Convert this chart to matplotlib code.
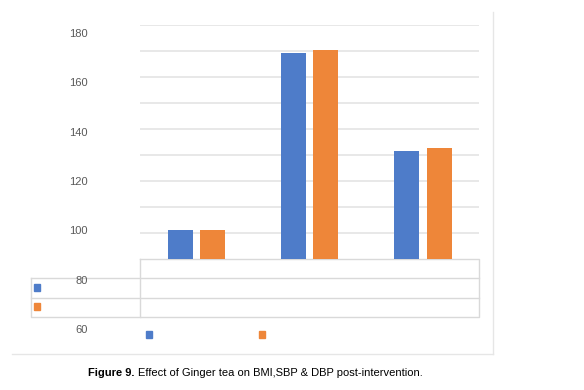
import numpy as np
import matplotlib
matplotlib.use("Agg")
import matplotlib.pyplot as plt
from matplotlib.patches import Rectangle
import matplotlib.transforms as mtransforms

# values (scale of the printed axis labels)
categories = ["BMI", "SBP", "DBP"]
series_a = [100.4, 172.3, 132.6]
series_b = [100.4, 173.5, 133.8]
tick_values = [60, 80, 100, 120, 140, 160, 180]

blue = "#4E7CC9"
orange = "#EE8639"
grid_c = "#E2E2E2"
label_c = "#595959"

plt.rcParams["font.family"] = ["Liberation Sans", "DejaVu Sans"]

fig = plt.figure(figsize=(5.84, 3.9), dpi=100)

# overlay in pixel coordinates for frame, table box and legend keys
over = fig.add_axes([0, 0, 1, 1], zorder=0)
over.set_xlim(0, 584)
over.set_ylim(390, 0)
over.axis("off")

ax = fig.add_axes([140 / 584, 1 - 259.3 / 390, 339.3 / 584, 234.3 / 390], zorder=1)
ax.patch.set_alpha(0)

x = np.arange(len(categories))
w = 0.221
off = 0.144
ax.bar(x - off, series_a, w, color=blue, zorder=3)
ax.bar(x + off, series_b, w, color=orange, zorder=3)

ymin, ymax = 88.7, 183.65
ax.set_xlim(-0.5, 2.5)
ax.set_ylim(ymin, ymax)
ax.set_yticks(np.linspace(ymin, ymax, 10)[1:])
ax.yaxis.grid(True, color=grid_c, linewidth=1.1)
ax.set_axisbelow(True)
ax.tick_params(length=0, labelleft=False, labelbottom=False)
ax.set_xticks([])
for s in ax.spines.values():
    s.set_visible(False)

# printed axis labels (they sit off the gridlines, as in the reference)
trans = mtransforms.blended_transform_factory(ax.transAxes, ax.transData)
for v in tick_values:
    ax.text(-0.154, v, str(v), transform=trans, ha="right", va="center",
            fontsize=8, color=label_c, clip_on=False)

# data table box under the plot area
lc = "#D9D9D9"
over.plot([140, 479.3, 479.3, 140, 140], [259.3, 259.3, 317.3, 317.3, 259.3], color=lc, lw=1)
over.plot([31, 479.3], [278.3, 278.3], color=lc, lw=1)
over.plot([31, 479.3], [297.7, 297.7], color=lc, lw=1)
over.plot([31, 31, 140], [278.3, 317.3, 317.3], color=lc, lw=1)

# legend keys
over.add_patch(Rectangle((34, 284), 6.3, 7, color=blue))
over.add_patch(Rectangle((34, 303.3), 6.3, 6.7, color=orange))
over.add_patch(Rectangle((146, 330.7), 5.7, 7, color=blue))
over.add_patch(Rectangle((258.7, 330.7), 6.3, 7, color=orange))

# chart frame (right and bottom edges only)
over.plot([492.7, 492.7], [12, 354.3], color="#E6E6E6", lw=1)
over.plot([11.7, 492.7], [354.3, 354.3], color="#E6E6E6", lw=1)

# caption
over.text(135, 373, "Figure 9.", ha="right", va="center", fontsize=8,
          fontweight="bold", color="black")
over.text(137.5, 373, "Effect of Ginger tea on BMI,SBP & DBP post-intervention.",
          ha="left", va="center", fontsize=8, color="black")

fig.savefig("out.png", dpi=100)
